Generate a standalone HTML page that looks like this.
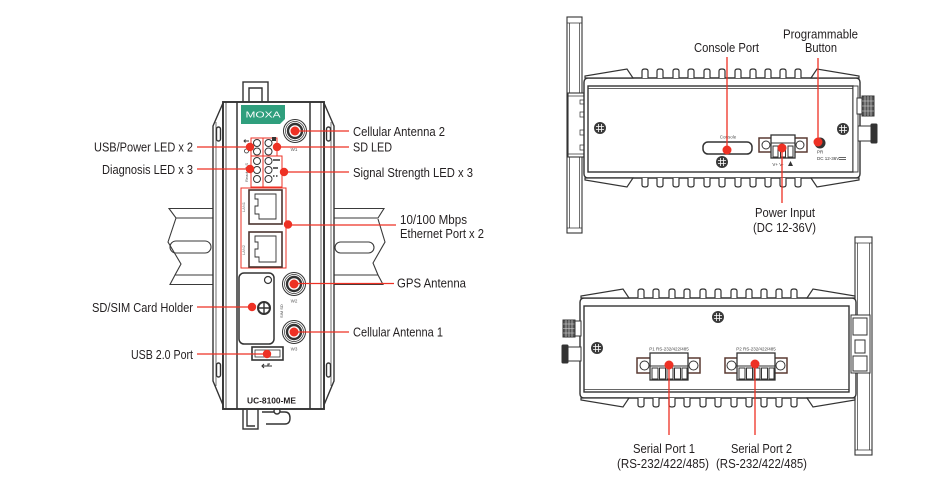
<!DOCTYPE html>
<html><head><meta charset="utf-8">
<style>
html,body{margin:0;padding:0;background:#fff;width:942px;height:494px;overflow:hidden;}
svg{display:block;}
text{font-family:"Liberation Sans",Arial,sans-serif;fill:#231f20;}
</style></head><body>
<svg width="942" height="494" viewBox="0 0 942 494" xmlns="http://www.w3.org/2000/svg">
<rect x="0" y="0" width="942" height="494" fill="#fff"/>

<!-- ============ LEFT DEVICE ============ -->
<g fill="none" stroke="#3a3a3a" stroke-width="1.1">
  <path d="M213 208.5H169L176 218H213M176 218L168 242L181 264L175 275H213M175 275L170 284.5H213"/>
  <rect x="170" y="241" width="41" height="12" rx="6"/>
  <path d="M333 208.5H384L378 218H333M378 219L385 242L373 263L378 275H333M378 275L383 284.5H333"/>
  <rect x="335" y="242" width="39" height="11" rx="5.5"/>
</g>

<g fill="#fff" stroke="#333" stroke-width="1.4">
  <rect x="243" y="82" width="25" height="21"/>
  <path d="M249 102V88H262V102" fill="none"/>
  <rect x="243" y="407" width="15" height="22"/>
  <path d="M247 410V426H255" fill="none"/>
  <path d="M262 412H285Q290 412 290 418Q290 424 285 424H266" fill="none"/>
  <circle cx="277" cy="411" r="3"/>
  <path d="M223 103L213 126V381L223 405Z"/>
  <line x1="216" y1="122" x2="216" y2="386" stroke-width="0.7"/>
  <path d="M324 103L334 126V381L324 405Z"/>
  <line x1="331" y1="122" x2="331" y2="386" stroke-width="0.7"/>
  <rect x="216.5" y="127" width="4" height="14" rx="2"/>
  <rect x="326.5" y="127" width="4" height="14" rx="2"/>
  <rect x="216.5" y="363" width="4" height="14" rx="2"/>
  <rect x="326.5" y="363" width="4" height="14" rx="2"/>
  <rect x="223" y="102" width="101" height="307" stroke-width="1.9"/>
  <line x1="226" y1="102" x2="226" y2="409" stroke-width="0.8"/>
  <line x1="321" y1="102" x2="321" y2="409" stroke-width="0.8"/>
  <line x1="237" y1="102" x2="237" y2="409" stroke-width="1.5"/>
  <line x1="310" y1="102" x2="310" y2="409" stroke-width="1.5"/>
</g>

<path d="M241 105H285V119L280 124H241Z" fill="#2f9f7d"/>
<text x="245.5" y="117.3" font-size="8" style="fill:#fff" textLength="35" lengthAdjust="spacingAndGlyphs">MOXA</text>

<g stroke="#333">
  <circle cx="295" cy="131" r="11.5" fill="#fff" stroke-width="1"/>
  <circle cx="295" cy="131" r="9.5" fill="none" stroke-width="0.7"/>
  <circle cx="295" cy="131" r="7" fill="none" stroke-width="2.4"/>
  <circle cx="294" cy="284" r="11.5" fill="#fff" stroke-width="1"/>
  <circle cx="294" cy="284" r="9.5" fill="none" stroke-width="0.7"/>
  <circle cx="294" cy="284" r="7" fill="none" stroke-width="2.4"/>
  <circle cx="294" cy="332" r="11.5" fill="#fff" stroke-width="1"/>
  <circle cx="294" cy="332" r="9.5" fill="none" stroke-width="0.7"/>
  <circle cx="294" cy="332" r="7" fill="none" stroke-width="2.4"/>
</g>
<text x="294" y="151" font-size="4.5" text-anchor="middle" style="fill:#555">W1</text>
<text x="294" y="302.5" font-size="4.5" text-anchor="middle" style="fill:#555">W2</text>
<text x="294" y="350.5" font-size="4.5" text-anchor="middle" style="fill:#555">W3</text>

<g fill="none" stroke="#ee3124" stroke-width="1">
  <rect x="251" y="138" width="12" height="18"/>
  <rect x="263" y="138" width="14" height="18"/>
  <rect x="251" y="156" width="12" height="31"/>
  <rect x="263" y="156" width="19" height="31"/>
</g>
<g fill="#fff" stroke="#333" stroke-width="1">
  <circle cx="257" cy="143" r="3.5"/><circle cx="257" cy="151.5" r="3.5"/>
  <circle cx="257" cy="161" r="3.5"/><circle cx="257" cy="170" r="3.5"/><circle cx="257" cy="179" r="3.5"/>
  <circle cx="268.5" cy="143" r="3.5"/><circle cx="268.5" cy="151.5" r="3.5"/>
  <circle cx="268.5" cy="161" r="3.5"/><circle cx="268.5" cy="170" r="3.5"/><circle cx="268.5" cy="179" r="3.5"/>
</g>
<g stroke="#333" stroke-width="1.6" fill="none">
  <path d="M273 160H280M273 168H278M273 176H274.5M276 176H277.5"/>
  <path d="M244 141H249M245.5 139.5L244 141L245.5 142.5" stroke-width="0.9"/>
  <circle cx="246.5" cy="151" r="2" stroke-width="0.8"/>
</g>
<rect x="272" y="137" width="4" height="4" fill="#333"/>
<text transform="translate(248 182) rotate(-90)" font-size="4" style="fill:#555">Ready  P  S</text>

<rect x="241" y="188" width="45" height="80" fill="none" stroke="#ee3124" stroke-width="1"/>
<g fill="#fff" stroke="#4b3530" stroke-width="1.6">
  <rect x="249" y="190" width="33" height="34"/>
  <rect x="249" y="232" width="33" height="35"/>
</g>
<g fill="none" stroke="#333" stroke-width="0.9">
  <path d="M255 194H276V219H259V214H255V206H258V199H255Z"/>
  <path d="M255 236H276V262H259V257H255V249H258V242H255Z"/>
</g>
<text transform="translate(245 212) rotate(-90)" font-size="4" style="fill:#666">LAN1</text>
<text transform="translate(245 255) rotate(-90)" font-size="4" style="fill:#666">LAN2</text>

<rect x="239" y="273" width="35" height="71" rx="5" fill="#fff" stroke="#333" stroke-width="1.5"/>
<circle cx="268" cy="280" r="3.5" fill="none" stroke="#333" stroke-width="1.2"/>
<circle cx="264" cy="308" r="6" fill="none" stroke="#333" stroke-width="2"/>
<path d="M258 308H270M264 302V314" stroke="#333" stroke-width="1.4"/>
<text transform="translate(283 318) rotate(-90)" font-size="4" style="fill:#444">SIM  SD</text>

<rect x="252" y="347" width="31" height="13" fill="#fff" stroke="#333" stroke-width="1.6"/>
<rect x="255" y="350" width="25" height="7" fill="none" stroke="#333" stroke-width="0.8"/>
<path d="M262 366H272M264 364L262 366L264 368M268 366V364H270" stroke="#333" stroke-width="1.1" fill="none"/>

<text x="247" y="403.5" font-size="8" font-weight="bold" textLength="49" lengthAdjust="spacingAndGlyphs">UC-8100-ME</text>

<g stroke="#ee3124" stroke-width="1.3" fill="none">
  <path d="M197 147H250M277 147H349M197 169H250M284 172H349M295 131H349M288 225H396M294 283.5H394M197 307H252M294 332H349M197 354H267"/>
</g>
<g fill="#ee3124">
  <circle cx="295" cy="131" r="4.5"/><circle cx="294" cy="284" r="4.5"/><circle cx="294" cy="332" r="4.5"/>
  <circle cx="250" cy="147" r="4.2"/><circle cx="277" cy="147" r="4.2"/>
  <circle cx="250" cy="169" r="4.2"/><circle cx="284" cy="172" r="4.2"/>
  <circle cx="288" cy="224.5" r="4.2"/><circle cx="252" cy="307" r="4.2"/><circle cx="267" cy="354" r="4.2"/>
</g>

<g font-size="13">
  <text x="94" y="151.5" textLength="99" lengthAdjust="spacingAndGlyphs">USB/Power LED x 2</text>
  <text x="102" y="174" textLength="91" lengthAdjust="spacingAndGlyphs">Diagnosis LED x 3</text>
  <text x="92" y="312" textLength="101" lengthAdjust="spacingAndGlyphs">SD/SIM Card Holder</text>
  <text x="131" y="359" textLength="62" lengthAdjust="spacingAndGlyphs">USB 2.0 Port</text>
  <text x="353" y="136" textLength="92" lengthAdjust="spacingAndGlyphs">Cellular Antenna 2</text>
  <text x="353" y="151.5" textLength="39" lengthAdjust="spacingAndGlyphs">SD LED</text>
  <text x="353" y="177" textLength="120" lengthAdjust="spacingAndGlyphs">Signal Strength LED x 3</text>
  <text x="400" y="224" textLength="67" lengthAdjust="spacingAndGlyphs">10/100 Mbps</text>
  <text x="400" y="238" textLength="84" lengthAdjust="spacingAndGlyphs">Ethernet Port x 2</text>
  <text x="397" y="287.5" textLength="69" lengthAdjust="spacingAndGlyphs">GPS Antenna</text>
  <text x="353" y="336.5" textLength="90" lengthAdjust="spacingAndGlyphs">Cellular Antenna 1</text>
</g>

<!-- ============ TOP RIGHT DEVICE ============ -->
<g fill="#fff" stroke="#333" stroke-width="1.1">
  <rect x="567" y="17" width="15" height="216"/>
  <path d="M569.5 23V228M579.5 23V228M567 23H582M567 228H582" fill="none" stroke-width="0.7"/>
  <rect x="568" y="93" width="20" height="64"/>
  <path d="M568 96H588M568 154H588M584 96V154" fill="none" stroke-width="0.8"/>
  <path d="M580 100h4v4h-4zM580 112h4v5h-4zM580 130h4v5h-4zM580 145h4v5h-4z" stroke-width="0.7"/>
</g>

<g fill="#fff" stroke="#333" stroke-width="1.2">
  <rect x="584" y="78" width="276" height="100" rx="4" stroke-width="1.4"/>
  <path d="M585 78V76L627 69L633 78Z"/>
  <path d="M811 78L817 69L859 76V78Z"/>
  <path d="M642 78V71Q642 69 645 69Q648 69 648 71V78M657 78V71Q657 69 660 69Q663 69 663 71V78M673 78V71Q673 69 676 69Q679 69 679 71V78M688 78V71Q688 69 691 69Q694 69 694 71V78M704 78V71Q704 69 707 69Q710 69 710 71V78M719 78V71Q719 69 722 69Q725 69 725 71V78M735 78V71Q735 69 738 69Q741 69 741 71V78M750 78V71Q750 69 753 69Q756 69 756 71V78M765 78V71Q765 69 768 69Q771 69 771 71V78M780 78V71Q780 69 783 69Q786 69 786 71V78M795 78V71Q795 69 798 69Q801 69 801 71V78"/>
  <g transform="matrix(1 0 0 -1 0 256)">
    <path d="M585 78V76L627 69L633 78Z"/>
    <path d="M811 78L817 69L859 76V78Z"/>
    <path d="M642 78V71Q642 69 645 69Q648 69 648 71V78M657 78V71Q657 69 660 69Q663 69 663 71V78M673 78V71Q673 69 676 69Q679 69 679 71V78M688 78V71Q688 69 691 69Q694 69 694 71V78M704 78V71Q704 69 707 69Q710 69 710 71V78M719 78V71Q719 69 722 69Q725 69 725 71V78M735 78V71Q735 69 738 69Q741 69 741 71V78M750 78V71Q750 69 753 69Q756 69 756 71V78M765 78V71Q765 69 768 69Q771 69 771 71V78M780 78V71Q780 69 783 69Q786 69 786 71V78M795 78V71Q795 69 798 69Q801 69 801 71V78"/>
  </g>
  <rect x="588" y="86" width="265" height="86" stroke-width="1.4"/>
  <line x1="588" y1="88.5" x2="853" y2="88.5" stroke-width="0.7"/>
  <rect x="853" y="86" width="5" height="86" stroke-width="0.9"/>
</g>

<g stroke="#333" stroke-width="1">
  <rect x="857" y="98" width="5" height="16" fill="#fff"/>
  <rect x="862" y="96" width="12" height="20" fill="#555"/>
  <path d="M865 96V116M868 96V116M871 96V116M862 101H874M862 106H874M862 111H874" stroke="#ddd" stroke-width="0.6"/>
  <rect x="858" y="126" width="14" height="15" fill="#fff"/>
  <rect x="871" y="124" width="6" height="19" rx="1" fill="#333"/>
</g>

<circle cx="600" cy="128" r="6" fill="#3a3a3a"/>
<circle cx="843" cy="129" r="6" fill="#3a3a3a"/>
<circle cx="722" cy="162" r="6" fill="#3a3a3a"/>
<g stroke="#fff" stroke-width="0.8">
  <path d="M596 126.5H604M596 129.5H604M598.5 124V132M601.5 124V132"/>
  <path d="M839 127.5H847M839 130.5H847M841.5 125V133M844.5 125V133"/>
  <path d="M718 160.5H726M718 163.5H726M720.5 158V166M723.5 158V166"/>
</g>

<rect x="703" y="142" width="49" height="12" rx="5" fill="#fff" stroke="#333" stroke-width="1.5"/>
<text x="728" y="138.5" font-size="4.5" text-anchor="middle" style="fill:#555">Console</text>

<rect x="759" y="138" width="48" height="14" fill="#fff" stroke="#5a3a32" stroke-width="1.5"/>
<g fill="#fff" stroke="#333" stroke-width="1">
  <circle cx="766" cy="145" r="4"/><circle cx="800" cy="145" r="4"/>
  <rect x="771" y="135" width="24" height="23" stroke-width="1.3"/>
  <line x1="771" y1="143" x2="795" y2="143"/>
  <rect x="773" y="146" width="5" height="11"/><rect x="780.5" y="146" width="5" height="11"/><rect x="788" y="146" width="5" height="11"/>
</g>
<text x="778" y="166" font-size="4.5" text-anchor="middle" style="fill:#333">V+ V-</text>
<path d="M788 166H793L790.5 161Z" fill="#333"/>

<circle cx="820" cy="143" r="5.5" fill="#333"/>
<text x="817" y="153.5" font-size="4.5" style="fill:#333">PR</text>
<text x="817" y="160" font-size="4.5" style="fill:#333">DC 12-36V</text>
<path d="M839 157.5H846M839 159.5H846" stroke="#333" stroke-width="0.8"/>

<g stroke="#ee3124" stroke-width="1.3" fill="none">
  <path d="M727 57V150M818 58V142M782 148V203"/>
</g>
<g fill="#ee3124">
  <circle cx="727" cy="150" r="4.5"/><circle cx="818" cy="142" r="4.5"/><circle cx="782" cy="148" r="4.5"/>
</g>
<g font-size="13">
  <text x="694" y="52" textLength="65" lengthAdjust="spacingAndGlyphs">Console Port</text>
  <text x="783" y="38.5" textLength="75" lengthAdjust="spacingAndGlyphs">Programmable</text>
  <text x="805" y="52" textLength="32" lengthAdjust="spacingAndGlyphs">Button</text>
  <text x="755" y="217" textLength="60" lengthAdjust="spacingAndGlyphs">Power Input</text>
  <text x="753" y="232" textLength="63" lengthAdjust="spacingAndGlyphs">(DC 12-36V)</text>
</g>

<!-- ============ BOTTOM RIGHT DEVICE ============ -->
<g fill="#fff" stroke="#333" stroke-width="1.1">
  <rect x="855" y="237" width="17" height="218"/>
  <path d="M857.5 243V450M869.5 243V450M855 243H872M855 450H872" fill="none" stroke-width="0.7"/>
</g>

<g transform="translate(-4 220)" fill="#fff" stroke="#333" stroke-width="1.2">
  <rect x="584" y="78" width="276" height="100" rx="4" stroke-width="1.4"/>
  <path d="M585 78V76L627 69L633 78Z"/>
  <path d="M811 78L817 69L859 76V78Z"/>
  <path d="M642 78V71Q642 69 645 69Q648 69 648 71V78M657 78V71Q657 69 660 69Q663 69 663 71V78M673 78V71Q673 69 676 69Q679 69 679 71V78M688 78V71Q688 69 691 69Q694 69 694 71V78M704 78V71Q704 69 707 69Q710 69 710 71V78M719 78V71Q719 69 722 69Q725 69 725 71V78M735 78V71Q735 69 738 69Q741 69 741 71V78M750 78V71Q750 69 753 69Q756 69 756 71V78M765 78V71Q765 69 768 69Q771 69 771 71V78M780 78V71Q780 69 783 69Q786 69 786 71V78M795 78V71Q795 69 798 69Q801 69 801 71V78"/>
  <g transform="matrix(1 0 0 -1 0 256)">
    <path d="M585 78V76L627 69L633 78Z"/>
    <path d="M811 78L817 69L859 76V78Z"/>
    <path d="M642 78V71Q642 69 645 69Q648 69 648 71V78M657 78V71Q657 69 660 69Q663 69 663 71V78M673 78V71Q673 69 676 69Q679 69 679 71V78M688 78V71Q688 69 691 69Q694 69 694 71V78M704 78V71Q704 69 707 69Q710 69 710 71V78M719 78V71Q719 69 722 69Q725 69 725 71V78M735 78V71Q735 69 738 69Q741 69 741 71V78M750 78V71Q750 69 753 69Q756 69 756 71V78M765 78V71Q765 69 768 69Q771 69 771 71V78M780 78V71Q780 69 783 69Q786 69 786 71V78M795 78V71Q795 69 798 69Q801 69 801 71V78"/>
  </g>
  <rect x="588" y="86" width="265" height="86" stroke-width="1.4"/>
  <line x1="588" y1="169.5" x2="853" y2="169.5" stroke-width="0.7"/>
</g>

<g fill="#fff" stroke="#333" stroke-width="1">
  <rect x="851" y="315" width="19" height="58"/>
  <rect x="853" y="318" width="14" height="17"/>
  <rect x="855" y="340" width="10" height="13"/>
  <rect x="853" y="356" width="14" height="15"/>
</g>
<g stroke="#333" stroke-width="1">
  <rect x="563" y="320" width="12" height="17" fill="#555"/>
  <path d="M566 320V337M569 320V337M572 320V337M563 324H575M563 328.5H575M563 333H575" stroke="#ddd" stroke-width="0.6"/>
  <rect x="575" y="321" width="6" height="15" fill="#fff"/>
  <rect x="562" y="345" width="6" height="18" rx="1" fill="#333"/>
  <rect x="568" y="347" width="13" height="14" fill="#fff"/>
</g>
<circle cx="718" cy="317" r="6" fill="#3a3a3a"/>
<circle cx="597" cy="348" r="6" fill="#3a3a3a"/>
<g stroke="#fff" stroke-width="0.8">
  <path d="M714 315.5H722M714 318.5H722M716.5 313V321M719.5 313V321"/>
  <path d="M593 346.5H601M593 349.5H601M595.5 344V352M598.5 344V352"/>
</g>

<g fill="#fff" stroke="#5a3a32" stroke-width="1.5">
  <rect x="637" y="358" width="63" height="15"/>
  <rect x="725" y="358" width="62" height="15"/>
</g>
<g fill="#fff" stroke="#333" stroke-width="1">
  <circle cx="644.5" cy="365.5" r="4.5"/><circle cx="693.5" cy="365.5" r="4.5"/>
  <circle cx="731.5" cy="365.5" r="4.5"/><circle cx="780.5" cy="365.5" r="4.5"/>
  <rect x="650" y="353" width="38" height="27" stroke-width="1.3"/>
  <rect x="737" y="353" width="38" height="27" stroke-width="1.3"/>
  <line x1="650" y1="366" x2="688" y2="366"/>
  <line x1="737" y1="366" x2="775" y2="366"/>
  <rect x="652" y="368" width="6" height="11"/><rect x="659.5" y="368" width="6" height="11"/><rect x="667" y="368" width="6" height="11"/><rect x="674.5" y="368" width="6" height="11"/><rect x="682" y="368" width="5" height="11"/>
  <rect x="739" y="368" width="6" height="11"/><rect x="746.5" y="368" width="6" height="11"/><rect x="754" y="368" width="6" height="11"/><rect x="761.5" y="368" width="6" height="11"/><rect x="769" y="368" width="5" height="11"/>
</g>
<text x="669" y="350.5" font-size="4.5" text-anchor="middle" style="fill:#444">P1 RS-232/422/485</text>
<text x="756" y="350.5" font-size="4.5" text-anchor="middle" style="fill:#444">P2 RS-232/422/485</text>

<g stroke="#ee3124" stroke-width="1.3" fill="none">
  <path d="M669 365V435M755 364V435"/>
</g>
<g fill="#ee3124">
  <circle cx="669" cy="365" r="4.5"/><circle cx="755" cy="364" r="4.5"/>
</g>
<g font-size="13">
  <text x="633" y="453" textLength="62" lengthAdjust="spacingAndGlyphs">Serial Port 1</text>
  <text x="617" y="468" textLength="92" lengthAdjust="spacingAndGlyphs">(RS-232/422/485)</text>
  <text x="731" y="453" textLength="61" lengthAdjust="spacingAndGlyphs">Serial Port 2</text>
  <text x="716" y="468" textLength="91" lengthAdjust="spacingAndGlyphs">(RS-232/422/485)</text>
</g>
</svg>
</body></html>
